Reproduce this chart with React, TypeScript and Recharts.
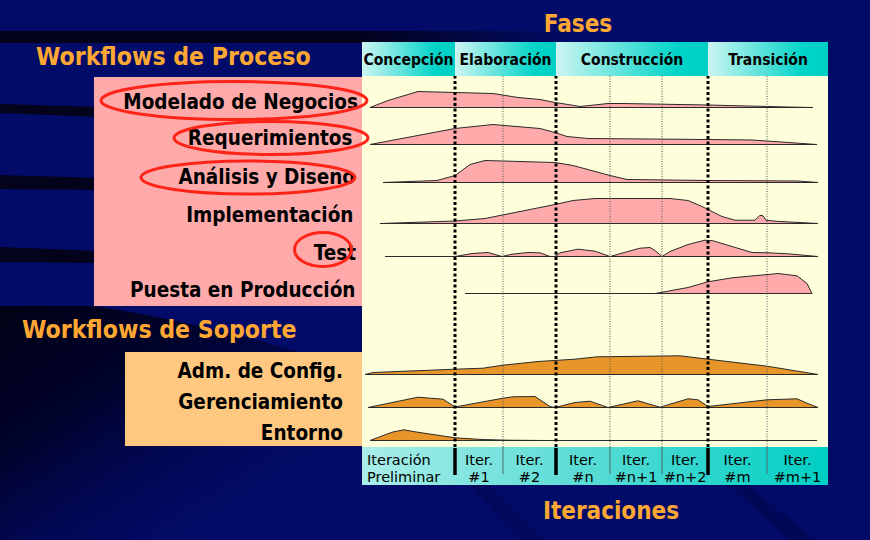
import { AreaChart, Area, ComposedChart, Line, XAxis, YAxis, ReferenceArea, ReferenceLine } from 'recharts';

// ---- datos ----
const fases = ['Concepción', 'Elaboración', 'Construcción', 'Transición'];
const limitesFases = [0, 93, 194, 346, 466];

const iteraciones = [
  ['Iteración', 'Preliminar'],
  ['Iter.', '#1'],
  ['Iter.', '#2'],
  ['Iter.', '#n'],
  ['Iter.', '#n+1'],
  ['Iter.', '#n+2'],
  ['Iter.', '#m'],
  ['Iter.', '#m+1'],
];
const limitesIter = [0, 93, 141, 194, 248, 300, 346, 405, 466];

const flujosProceso = ['Modelado de Negocios', 'Requerimientos', 'Análisis y Diseno', 'Implementación', 'Test', 'Puesta en Producción'];
const flujosSoporte = ['Adm. de Config.', 'Gerenciamiento', 'Entorno'];

// [tiempo, esfuerzo]
const modelado = [[8, 0], [26, 7], [56, 16], [93, 15], [131, 14], [156, 10], [178, 8], [193, 5], [206, 3], [218, 1], [246, 4], [260, 4], [346, 2.5], [426, 0.5], [451, 0]];
const requerimientos = [[8, 0], [93, 16], [131, 20], [178, 16], [193, 12], [205, 8], [226, 6], [346, 5], [390, 4.5], [405, 3.5], [455, 0]];
const analisis = [[21, 0], [75, 2], [93, 7], [108, 18], [123, 22], [193, 20], [211, 17], [248, 7], [265, 3], [346, 2], [436, 1.5], [456, 0]];
const implementacion = [[18, 0], [93, 2.5], [123, 5], [193, 19], [211, 23], [233, 25], [308, 25], [326, 23], [340, 17], [360, 7], [373, 3.3], [393, 3.3], [398, 8.3], [401, 7.7], [404, 3.3], [413, 2.3], [456, 0]];
const test = [[23, 0], [93, 0], [110, 3], [126, 4], [140, 0], [150, 2.3], [166, 4], [178, 3.7], [188, 0], [193, 0], [198, 3.7], [216, 7.3], [233, 5.3], [248, 0], [278, 8.3], [288, 9], [293, 6], [300, 0], [308, 5], [326, 12], [343, 16.3], [351, 15.7], [390, 4], [406, 3.7], [426, 2.7], [456, 0]];
const puesta = [[103, 0], [293, 0], [306, 2.3], [326, 6], [346, 11.7], [370, 15.7], [406, 19], [416, 20], [435, 17.7], [445, 10], [450, 0]];
const admConfig = [[3, 0], [11, 2], [93, 5.3], [121, 6.3], [141, 9.3], [176, 13], [213, 15.3], [235, 17.7], [318, 18.7], [346, 15.3], [405, 8.3], [456, 0]];
const gerenciamiento = [[6, 0], [56, 10.3], [81, 8.3], [93, 0.5], [141, 9.3], [151, 10.7], [173, 11], [188, 1], [193, 0], [213, 5], [228, 6.3], [246, 0], [276, 6.7], [298, 0.3], [326, 8.7], [336, 7.7], [346, 1], [405, 7.7], [435, 8.7], [445, 4.3], [456, 0]];
const entorno = [[8, 0], [30, 8.3], [42, 10.7], [53, 8.7], [93, 2.7], [120, 1], [146, 0.3], [183, 0], [455, 0]];

// ---- estilos / layout ----
const COND = '"DejaVu Sans Condensed", "DejaVu Sans", sans-serif';
const SANS = '"DejaVu Sans", sans-serif';
const NARANJA_TXT = '#ffa733';
const ROSA = '#ffaaaa';
const NARANJA = '#e8952a';
const PANEL_X = 362;
const PANEL_TOP = 42;
const PANEL_W = 466;
const PANEL_H = 443;

const filas = [
  { puntos: modelado, base: 107, color: ROSA },
  { puntos: requerimientos, base: 144, color: ROSA },
  { puntos: analisis, base: 182, color: ROSA },
  { puntos: implementacion, base: 223, color: ROSA },
  { puntos: test, base: 256, color: ROSA },
  { puntos: puesta, base: 293, color: ROSA },
  { puntos: admConfig, base: 374, color: NARANJA },
  { puntos: gerenciamiento, base: 407, color: NARANJA },
  { puntos: entorno, base: 440, color: NARANJA },
];

const etiquetasProceso = [
  { x: 358, y: 108.5 },
  { x: 352.5, y: 145 },
  { x: 355, y: 183.5 },
  { x: 353.5, y: 221.5 },
  { x: 356, y: 260 },
  { x: 355.5, y: 296.5 },
];
const etiquetasSoporte = [
  { x: 343, y: 378 },
  { x: 343, y: 408.5 },
  { x: 343, y: 440 },
];

function Fila({ puntos, base, color }: { puntos: number[][]; base: number; color: string }) {
  const data = puntos.map(([t, h]) => ({ t, v: [0, h] }));
  return (
    <div style={{ position: 'absolute', left: PANEL_X, top: base - 30 }}>
      <AreaChart width={PANEL_W} height={32} data={data} margin={{ top: 0, right: 0, bottom: 1.5, left: 0 }}>
        <XAxis type="number" dataKey="t" domain={[0, PANEL_W]} hide />
        <YAxis type="number" domain={[0, 30.5]} hide />
        <Area
          type="linear"
          dataKey="v"
          stroke="#2a2a2a"
          strokeWidth={1}
          fill={color}
          fillOpacity={1}
          dot={false}
          activeDot={false}
          isAnimationActive={false}
        />
      </AreaChart>
    </div>
  );
}

const etiquetaIter = (lineas: string[], izquierda: boolean) => (props: any) => {
  const vb = props.viewBox || props;
  const tx = izquierda ? vb.x + 5 : vb.x + vb.width / 2;
  return (
    <text textAnchor={izquierda ? 'start' : 'middle'} fontFamily={SANS} fontSize={14.5} fill="#000">
      <tspan x={tx} y={vb.y + 18}>{lineas[0]}</tspan>
      <tspan x={tx} y={vb.y + 34.7}>{lineas[1]}</tspan>
    </text>
  );
};

// serie invisible que fija las escalas del marco
const datosMarco = limitesIter.map((t) => ({ t, v: 0 }));

function Ejes() {
  return (
    <>
      <XAxis type="number" dataKey="t" domain={[0, PANEL_W]} allowDataOverflow hide />
      <YAxis type="number" domain={[0, PANEL_H]} allowDataOverflow hide />
      <Line dataKey="v" stroke="none" dot={false} activeDot={false} isAnimationActive={false} />
    </>
  );
}

function Marco() {
  return (
    <ComposedChart width={PANEL_W} height={PANEL_H} data={datosMarco} margin={{ top: 0, right: 0, bottom: 0, left: 0 }}>
      <defs>
        <linearGradient id="gFase" x1="0" y1="0" x2="1" y2="0">
          <stop offset="0" stopColor="#cdf5f2" />
          <stop offset="0.8" stopColor="#00d3c7" />
          <stop offset="1" stopColor="#00d0c4" />
        </linearGradient>
        <linearGradient id="gIter" x1="0" y1="0" x2="1" y2="0">
          <stop offset="0" stopColor="#aaede9" />
          <stop offset="0.5" stopColor="#55dbd4" />
          <stop offset="1" stopColor="#00cfc4" />
        </linearGradient>
      </defs>
      {Ejes()}
      <ReferenceArea x1={0} x2={PANEL_W} y1={38} y2={409} fill="#fffedb" fillOpacity={1} stroke="none" ifOverflow="visible" />
      {fases.map((f, i) => (
        <ReferenceArea
          key={f}
          x1={limitesFases[i]}
          x2={limitesFases[i + 1]}
          y1={409}
          y2={PANEL_H}
          fill="url(#gFase)"
          fillOpacity={1}
          stroke="none"
          ifOverflow="visible"
          label={{ value: f, position: 'center', fill: '#000', fontSize: 15.5, fontWeight: 'bold', fontFamily: COND }}
        />
      ))}
      <ReferenceArea x1={0} x2={PANEL_W} y1={0} y2={38} fill="url(#gIter)" fillOpacity={1} stroke="none" ifOverflow="visible" />
      {iteraciones.map((it, i) => (
        <ReferenceArea
          key={i}
          x1={limitesIter[i]}
          x2={limitesIter[i + 1]}
          y1={0}
          y2={38}
          fill="none"
          stroke="none"
          ifOverflow="visible"
          label={etiquetaIter(it, i === 0)}
        />
      ))}
    </ComposedChart>
  );
}

function Lineas() {
  return (
    <ComposedChart width={PANEL_W} height={PANEL_H} data={datosMarco} margin={{ top: 0, right: 0, bottom: 0, left: 0 }}>
      {Ejes()}
      {limitesIter.slice(1, -1).map((t) => {
        const fuerte = limitesFases.includes(t);
        return (
          <ReferenceLine
            key={'p' + t}
            segment={[{ x: t, y: 38 }, { x: t, y: 409 }]}
            stroke={fuerte ? '#000' : '#555'}
            strokeWidth={fuerte ? 3 : 1}
            strokeDasharray={fuerte ? '3 2.5' : '1 1.5'}
            ifOverflow="visible"
          />
        );
      })}
      {limitesIter.slice(1, -1).map((t) => {
        const fuerte = limitesFases.includes(t);
        return (
          <ReferenceLine
            key={'i' + t}
            segment={fuerte ? [{ x: t, y: 10 }, { x: t, y: 37 }] : [{ x: t, y: 11 }, { x: t, y: 38 }]}
            stroke={fuerte ? '#000' : '#4a6a6a'}
            strokeWidth={fuerte ? 3.5 : 1}
            ifOverflow="visible"
          />
        );
      })}
    </ComposedChart>
  );
}

function Fondo() {
  const titulo = { fontFamily: COND, fontWeight: 'bold' as const, fontSize: 24, fill: NARANJA_TXT };
  const tituloFlujo = { ...titulo, fontSize: 24.6 };
  const etiqueta = { fontFamily: COND, fontWeight: 'bold' as const, fontSize: 20.5, fill: '#000', textAnchor: 'end' as const };
  return (
    <svg width={870} height={540} style={{ position: 'absolute', left: 0, top: 0 }}>
      <defs>
        <linearGradient id="bandaSup" x1="0" y1="0" x2="1" y2="0">
          <stop offset="0" stopColor="#02021a" />
          <stop offset="0.6" stopColor="#02021a" />
          <stop offset="1" stopColor="#02021a" stopOpacity="0" />
        </linearGradient>
        <linearGradient id="sombraInf" gradientUnits="userSpaceOnUse" x1="0" y1="320" x2="180" y2="600">
          <stop offset="0" stopColor="#010117" />
          <stop offset="0.35" stopColor="#01022c" />
          <stop offset="1" stopColor="#020b68" stopOpacity="0" />
        </linearGradient>
      </defs>
      <rect width={870} height={540} fill="#020b68" />
      <rect x={0} y={31} width={580} height={12} fill="url(#bandaSup)" />
      <path d="M0 104 L100 107 L100 117 L0 113 Z" fill="#03031c" />
      <path d="M0 175 L100 178 L100 190 L0 189 Z" fill="#03031c" />
      <path d="M0 247 L100 251 L100 263 L0 262 Z" fill="#03031c" />
      <path d="M0 306 L94 306 Q 250 330 420 390 L 520 540 L0 540 Z" fill="url(#sombraInf)" />
      <path d="M728 485 L748 485 L815 540 L790 540 Z" fill="#010750" opacity={0.7} />
      <path d="M470 485 L490 485 L545 540 L520 540 Z" fill="#010750" opacity={0.5} />

      <rect x={94} y={77} width={268} height={229} fill="#ffaaaa" />
      <rect x={125} y={352} width={237} height={94} fill="#ffc880" />

      <text x={36} y={65} {...tituloFlujo}>Workflows de Proceso</text>
      <text x={22} y={338} {...tituloFlujo}>Workflows de Soporte</text>
      <text x={578} y={32} {...titulo} textAnchor="middle">Fases</text>
      <text x={611} y={519} {...titulo} textAnchor="middle">Iteraciones</text>

      {flujosProceso.map((f, i) => (
        <text key={f} x={etiquetasProceso[i].x} y={etiquetasProceso[i].y} {...etiqueta}>{f}</text>
      ))}
      {flujosSoporte.map((f, i) => (
        <text key={f} x={etiquetasSoporte[i].x} y={etiquetasSoporte[i].y} {...etiqueta}>{f}</text>
      ))}
    </svg>
  );
}

function Elipses() {
  const e = { fill: 'none', stroke: '#ff2418', strokeWidth: 3 };
  return (
    <svg width={870} height={540} style={{ position: 'absolute', left: 0, top: 0, pointerEvents: 'none' }}>
      <ellipse cx={234} cy={100.5} rx={133} ry={19} {...e} />
      <ellipse cx={271} cy={138} rx={97} ry={16.5} {...e} />
      <ellipse cx={248} cy={177.5} rx={107} ry={16.5} {...e} />
      <ellipse cx={323} cy={249.5} rx={28.5} ry={17} {...e} />
    </svg>
  );
}

export default function App() {
  return (
    <div style={{ position: 'relative', width: 870, height: 540, overflow: 'hidden', background: '#020b68' }}>
      <style>{'body{margin:0}'}</style>
      <Fondo />
      <div style={{ position: 'absolute', left: PANEL_X, top: PANEL_TOP }}>
        <Marco />
      </div>
      {filas.map((f, i) => (
        <Fila key={i} puntos={f.puntos} base={f.base} color={f.color} />
      ))}
      <div style={{ position: 'absolute', left: PANEL_X, top: PANEL_TOP }}>
        <Lineas />
      </div>
      <Elipses />
    </div>
  );
}
